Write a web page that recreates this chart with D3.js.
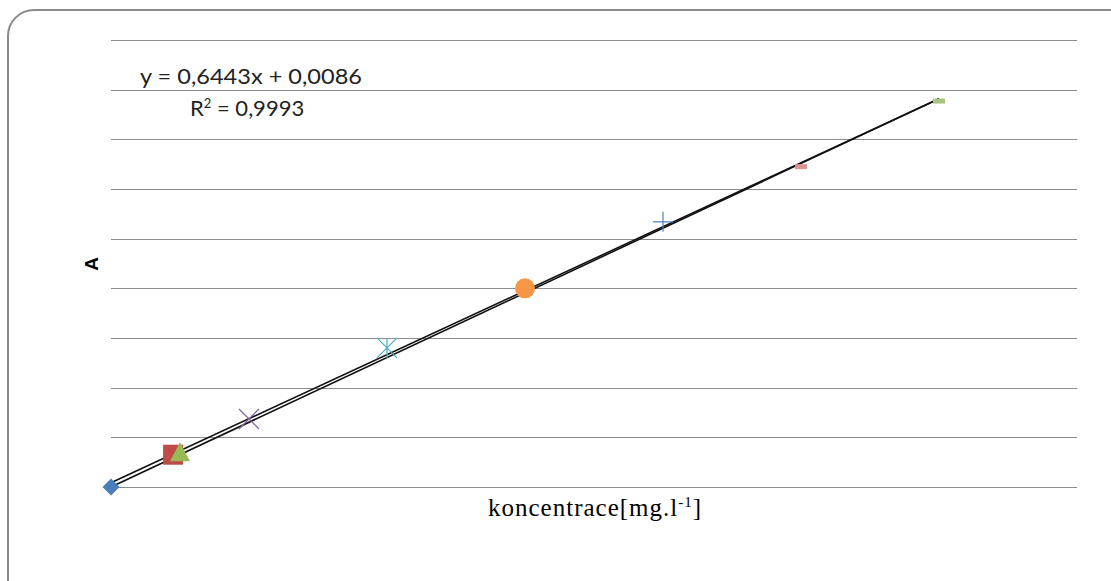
<!DOCTYPE html>
<html>
<head>
<meta charset="utf-8">
<script src="https://cdn.jsdelivr.net/npm/d3@7"></script>
<style>
  body { margin: 0; background: #fff; }
  svg { display: block; }
</style>
</head>
<body>
<div id="chart"></div>
<script>
// data
const xValues = [0, 0.09, 0.1, 0.2, 0.4, 0.6, 0.8, 1.0, 1.2];
const yValues = [0, 0.065, 0.068, 0.137, 0.28, 0.40, 0.534, 0.645, 0.777];
const markerShapes = ['diamond', 'square', 'triangle', 'x', 'asterisk', 'circle', 'plus', 'dash', 'dash'];
const markerColors = ['#4a7ebb', '#be4b48', '#98b954', '#8064a2', '#4bacc6', '#f79646', '#4f81bd', '#d99694', '#a9c47f'];
const gridTicks = [0, 0.1, 0.2, 0.3, 0.4, 0.5, 0.6, 0.7, 0.8, 0.9];
// linear fit shown on the chart and the fit forced through zero
const fitA = [0.6443, 0.0086];
const fitB = [0.6515, 0];
const fitRange = [0, 1.2];

const width = 1111, height = 581;
const margin = { left: 111, right: 34, top: 40, bottom: 94 };

const svg = d3.select('#chart').append('svg')
    .attr('width', width)
    .attr('height', height);

// chart border
svg.append('rect')
    .attr('x', 8).attr('y', 10)
    .attr('width', 1130).attr('height', 600)
    .attr('rx', 26)
    .attr('fill', '#fff')
    .attr('stroke', '#8a8a8a')
    .attr('stroke-width', 2);

const x = d3.scaleLinear().domain([0, 1.4]).range([margin.left, width - margin.right]);
const y = d3.scaleLinear().domain([0, 0.9]).range([height - margin.bottom, margin.top]);

// horizontal gridlines
svg.append('g')
    .selectAll('line')
    .data(gridTicks)
    .enter()
    .append('line')
    .attr('x1', x(0)).attr('x2', x(1.4))
    .attr('y1', d => Math.round(y(d)) + 0.5)
    .attr('y2', d => Math.round(y(d)) + 0.5)
    .attr('stroke', '#8c8c8c')
    .attr('stroke-width', 1);

// trend lines
[fitA, fitB].forEach(f => {
    svg.append('line')
        .attr('x1', x(fitRange[0])).attr('y1', y(f[0] * fitRange[0] + f[1]))
        .attr('x2', x(fitRange[1])).attr('y2', y(f[0] * fitRange[1] + f[1]))
        .attr('stroke', '#111')
        .attr('stroke-width', 1.6);
});

// markers
const pts = xValues.map((v, i) => ({ x: v, y: yValues[i], shape: markerShapes[i], color: markerColors[i] }));
const mk = svg.append('g')
    .selectAll('g')
    .data(pts)
    .enter()
    .append('g')
    .attr('transform', d => `translate(${x(d.x)},${y(d.y)})`);

mk.each(function(d) {
    const g = d3.select(this);
    if (d.shape === 'diamond') {
        g.append('path').attr('d', 'M0,-8.5L8.5,0L0,8.5L-8.5,0Z').attr('fill', d.color);
    } else if (d.shape === 'square') {
        g.append('rect').attr('x', -10).attr('y', -10).attr('width', 20).attr('height', 20).attr('fill', d.color);
    } else if (d.shape === 'triangle') {
        g.append('path').attr('d', 'M0,-11L10,8L-10,8Z').attr('fill', d.color);
    } else if (d.shape === 'x') {
        g.append('path').attr('d', 'M-10,-10L10,10M-10,10L10,-10').attr('stroke', d.color).attr('stroke-width', 1.2);
    } else if (d.shape === 'asterisk') {
        g.append('path').attr('d', 'M-10,-10L10,10M-10,10L10,-10M0,-10L0,10').attr('stroke', d.color).attr('stroke-width', 1.2);
    } else if (d.shape === 'circle') {
        g.append('ellipse').attr('rx', 10).attr('ry', 10).attr('fill', d.color);
    } else if (d.shape === 'plus') {
        g.append('path').attr('d', 'M-10,0L10,0M0,-10L0,10').attr('stroke', d.color).attr('stroke-width', 1.2);
    } else if (d.shape === 'dash') {
        g.append('rect').attr('x', -6).attr('y', -2.5).attr('width', 12).attr('height', 5).attr('fill', d.color);
    }
});

// equation labels
svg.append('text')
    .attr('x', 140).attr('y', 84)
    .attr('textLength', 222)
    .attr('lengthAdjust', 'spacingAndGlyphs')
    .style('font-family', 'Lato, "Open Sans", sans-serif')
    .style('font-size', '21px')
    .style('fill', '#222')
    .text('y = 0,6443x + 0,0086');

const r2 = svg.append('text')
    .attr('x', 190).attr('y', 116)
    .style('font-family', 'Lato, "Open Sans", sans-serif')
    .style('font-size', '22px')
    .style('fill', '#222');
r2.append('tspan').text('R');
r2.append('tspan').attr('dy', -8).style('font-size', '13px').text('2');
r2.append('tspan').attr('dy', 8).text(' = 0,9993');

// axis titles
svg.append('text')
    .attr('transform', 'translate(98,264) rotate(-90)')
    .attr('text-anchor', 'middle')
    .style('font-family', '"Liberation Sans", Arial, sans-serif')
    .style('font-weight', 'bold')
    .style('font-size', '19px')
    .style('fill', '#000')
    .text('A');

const xt = svg.append('text')
    .attr('x', 488).attr('y', 516)
    .style('font-family', '"Liberation Serif", "Times New Roman", serif')
    .style('font-size', '25px')
    .style('letter-spacing', '1px')
    .style('fill', '#000');
xt.append('tspan').text('koncentrace[mg.l');
xt.append('tspan').attr('dy', -9).style('font-size', '15px').text('-1');
xt.append('tspan').attr('dy', 9).text(']');
</script>
</body>
</html>
